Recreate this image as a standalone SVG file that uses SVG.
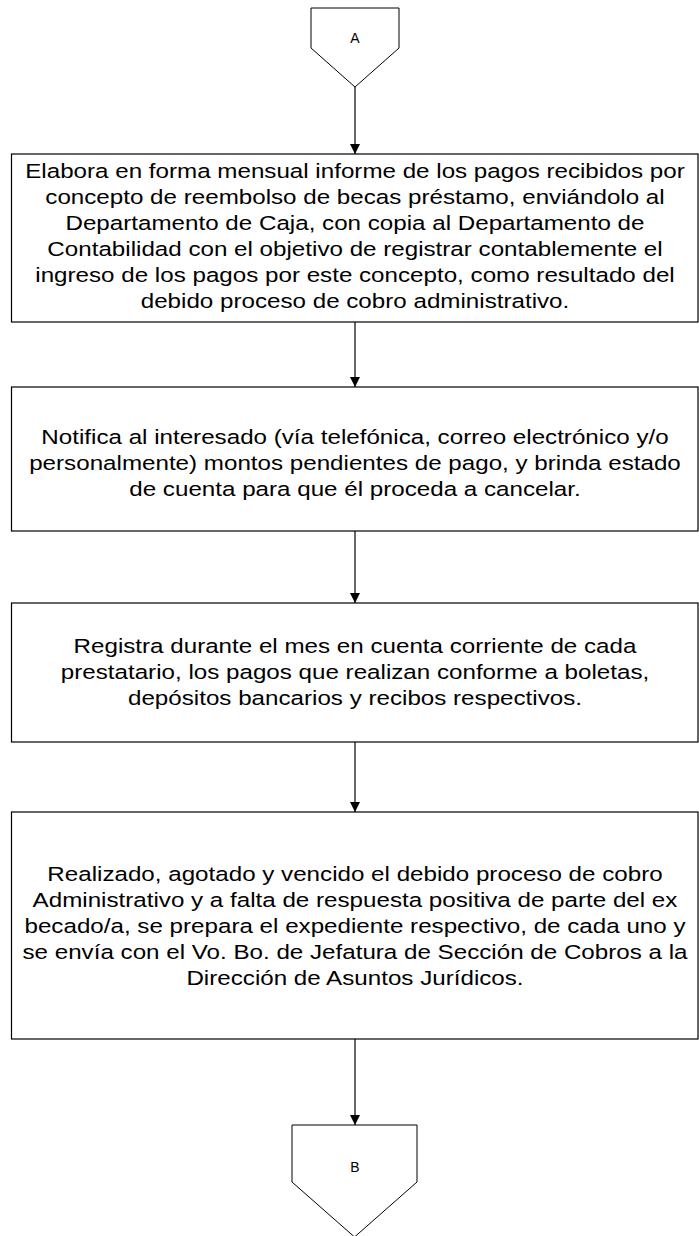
<svg xmlns="http://www.w3.org/2000/svg" width="699" height="1236" viewBox="0 0 699 1236">
<style>
.box{fill:#fff;stroke:#000;stroke-width:1.2}
.off{fill:#fff;stroke:#000;stroke-width:1}
.t{font-family:"Liberation Sans",Arial,sans-serif;font-size:19.5px;fill:#000;text-anchor:middle}
.l{font-family:"Liberation Sans",Arial,sans-serif;font-size:14px;fill:#000;text-anchor:middle}
.c{stroke:#000;stroke-width:1.2;fill:none;marker-end:url(#ah)}
</style>
<defs>
<marker id="ah" viewBox="0 0 10 10" refX="10" refY="5" markerWidth="10" markerHeight="10" markerUnits="userSpaceOnUse" orient="auto">
<path d="M0,0 L10,5 L0,10 z" fill="#000"/>
</marker>
</defs>
<g id="connectors">
<line class="c" x1="355" y1="87" x2="355" y2="154"/>
<line class="c" x1="355" y1="322" x2="355" y2="387"/>
<line class="c" x1="355" y1="531" x2="355" y2="603"/>
<line class="c" x1="355" y1="742" x2="355" y2="812"/>
<line class="c" x1="355" y1="1039" x2="355" y2="1125"/>
</g>
<g id="A">
<polygon class="off" points="311,8 399,8 399,48 355,87 311,48"/>
<text class="l" x="355" y="43">A</text>
</g>
<g id="n1">
<rect class="box" x="11.5" y="154" width="686.5" height="168"/>
<g transform="translate(355,0) scale(1.24,1) translate(-355,0)">
<text class="t" x="355" y="178">Elabora en forma mensual informe de los pagos recibidos por</text>
<text class="t" x="355" y="204">concepto de reembolso de becas préstamo, enviándolo al</text>
<text class="t" x="355" y="230">Departamento de Caja, con copia al Departamento de</text>
<text class="t" x="355" y="256">Contabilidad con el objetivo de registrar contablemente el</text>
<text class="t" x="355" y="282">ingreso de los pagos por este concepto, como resultado del</text>
<text class="t" x="355" y="308">debido proceso de cobro administrativo.</text>
</g>
</g>
<g id="n2">
<rect class="box" x="11.5" y="387" width="686.5" height="144"/>
<g transform="translate(355,0) scale(1.24,1) translate(-355,0)">
<text class="t" x="355" y="444">Notifica al interesado (vía telefónica, correo electrónico y/o</text>
<text class="t" x="355" y="470">personalmente) montos pendientes de pago, y brinda estado</text>
<text class="t" x="355" y="496">de cuenta para que él proceda a cancelar.</text>
</g>
</g>
<g id="n3">
<rect class="box" x="11.5" y="603" width="686.5" height="139"/>
<g transform="translate(355,0) scale(1.24,1) translate(-355,0)">
<text class="t" x="355" y="653">Registra durante el mes en cuenta corriente de cada</text>
<text class="t" x="355" y="679">prestatario, los pagos que realizan conforme a boletas,</text>
<text class="t" x="355" y="705">depósitos bancarios y recibos respectivos.</text>
</g>
</g>
<g id="n4">
<rect class="box" x="11.5" y="812" width="686.5" height="227"/>
<g transform="translate(355,0) scale(1.24,1) translate(-355,0)">
<text class="t" x="355" y="881">Realizado, agotado y vencido el debido proceso de cobro</text>
<text class="t" x="355" y="907">Administrativo y a falta de respuesta positiva de parte del ex</text>
<text class="t" x="355" y="933">becado/a, se prepara el expediente respectivo, de cada uno y</text>
<text class="t" x="355" y="959">se envía con el Vo. Bo. de Jefatura de Sección de Cobros a la</text>
<text class="t" x="355" y="985">Dirección de Asuntos Jurídicos.</text>
</g>
</g>
<g id="B">
<polygon class="off" points="292,1125 417,1125 417,1182 354.5,1237 292,1182"/>
<text class="l" x="355" y="1172">B</text>
</g>
</svg>
